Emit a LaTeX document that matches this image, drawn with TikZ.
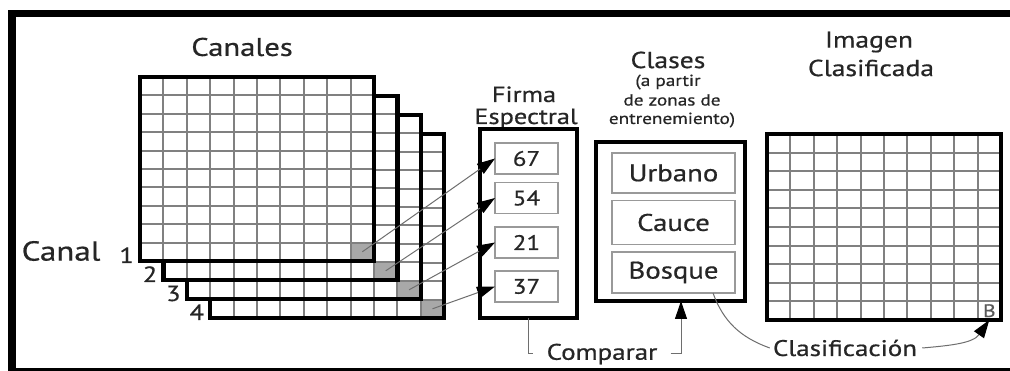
\documentclass[tikz,border=0pt]{standalone}
\usepackage{fontspec}
\setmainfont{PT Sans}[FakeStretch=1.2, FakeBold=0.6]
\usetikzlibrary{arrows.meta,calc}
\definecolor{ink}{HTML}{262626}
\definecolor{gridc}{HTML}{808080}
\definecolor{cellc}{HTML}{A8A8A8}
\definecolor{boxc}{HTML}{999999}
\definecolor{linec}{HTML}{6E6E6E}
\begin{document}
\begin{tikzpicture}[x=1pt,y=-1pt,
  frame/.style={draw=black, line width=4.5pt, inner sep=0pt, outer sep=0pt},
  gridline/.style={draw=gridc, line width=1.9pt},
  cellnode/.style={fill=cellc, inner sep=0pt, outer sep=0pt, minimum width=23.4pt, minimum height=18.4pt},
  itembox/.style={draw=boxc, line width=1.8pt, fill=white, inner sep=0pt, outer sep=0pt, text=ink},
  title/.style={text=ink, font=\fontsize{23}{25}\selectfont, inner sep=0pt},
  small/.style={text=ink, font=\fontsize{16}{18}\selectfont, inner sep=0pt},
  lbl/.style={text=ink, font=\fontsize{22.5}{24}\selectfont, inner sep=0pt},
  numlbl/.style={text=ink, font=\fontsize{22}{24}\selectfont, inner sep=0pt},
  conn/.style={draw=linec, line width=1pt},
  tip/.style={-{Triangle[length=18pt,width=12pt,color=black]}},
]
\useasboundingbox (0,0) rectangle (1010,371);
\fill[white] (0,0) rectangle (1010,371);

% outer border
\fill[black] (8,10) rectangle (1010,17);
\fill[black] (8,10) rectangle (16,371);
\fill[black] (8,368) rectangle (1010,371);

% stacked channel grids, back to front
\foreach \n/\px/\py in {4/210.2/134, 3/186.8/115, 2/163.4/96, 1/140/77}{
  \begin{scope}[shift={(\px,\py)}]
    \fill[white] (0,0) rectangle (234,184);
    \node[cellnode] (g\n) at (222.3,174.8) {};
    \foreach \i in {1,...,9}{
      \draw[gridline] (\i*23.4,0) -- (\i*23.4,184);
      \draw[gridline] (0,\i*18.4) -- (234,\i*18.4);
    }
    \node[frame, minimum width=234pt, minimum height=184pt, anchor=north west] (ch\n) at (0,0) {};
    \node[numlbl, anchor=base east] (n\n) at (-6,186) {\n};
  \end{scope}
}

\node[title, font=\fontsize{25.5}{27}\selectfont] (tcan) at (242,47) {Canales};
\node[text=ink, font=\fontsize{27.5}{30}\selectfont, inner sep=0pt] (tcanal) at (61,251) {Canal};

% spectral signature
\node[title, font=\fontsize{22}{24}\selectfont, anchor=base] (tfirma) at (524,102) {Firma};
\node[title, font=\fontsize{22}{24}\selectfont, anchor=base] (tesp) at (526,124) {Espectral};
\node[frame, minimum width=97pt, minimum height=189pt, anchor=north west] (fir) at (480,129) {};
\node[itembox, minimum width=63pt, minimum height=31pt, font=\fontsize{21}{23}\selectfont] (f67) at (526.5,158.5) {67};
\node[itembox, minimum width=63pt, minimum height=31pt, font=\fontsize{21}{23}\selectfont] (f54) at (526.5,198) {54};
\node[itembox, minimum width=63pt, minimum height=31pt, font=\fontsize{21}{23}\selectfont] (f21) at (526.5,242.5) {21};
\node[itembox, minimum width=63pt, minimum height=31pt, font=\fontsize{21}{23}\selectfont] (f37) at (526.5,286.5) {37};

% classes
\node[title] (tcla) at (668,60) {Clases};
\node[small] (tcl1) at (668,82) {(a partir};
\node[small] (tcl2) at (672,100) {de zonas de};
\node[small] (tcl3) at (672,120) {entrenemiento)};
\node[frame, minimum width=149pt, minimum height=159pt, anchor=north west] (cls) at (596,142) {};
\node[itembox, minimum width=123pt, minimum height=40pt, font=\fontsize{24}{26}\selectfont] (urb) at (673.5,173) {Urbano};
\node[itembox, minimum width=123pt, minimum height=44pt, font=\fontsize{24}{26}\selectfont] (cau) at (673.5,222.5) {Cauce};
\node[itembox, minimum width=123pt, minimum height=41pt, font=\fontsize{24}{26}\selectfont] (bos) at (673.5,272.5) {Bosque};

% classified image
\node[title] (timg) at (869,42) {Imagen};
\node[title] (tclf) at (871,68) {Clasificada};
\begin{scope}[shift={(767,134)}]
  \fill[white] (0,0) rectangle (234,186);
  \foreach \i in {1,...,9}{
    \draw[gridline] (\i*23.4,0) -- (\i*23.4,186);
    \draw[gridline] (0,\i*18.6) -- (234,\i*18.6);
  }
  \node[inner sep=0pt, outer sep=0pt, minimum width=23.4pt, minimum height=18.6pt,
        text=black!65, font=\rmfamily\fontsize{18}{18}\selectfont] (bcell) at (222.3,176.7) {B};
  \node[frame, minimum width=234pt, minimum height=186pt, anchor=north west] (img) at (0,0) {};
\end{scope}

% pixel values to the signature
\draw[conn, tip] (g1.center) -- (f67.west);
\draw[conn, tip] (g2.center) -- (f54.west);
\draw[conn, tip] (g3.center) -- (f21.west);
\draw[conn, tip] (g4.center) -- (f37.west);

% compare step
\node[lbl] (cmp) at (602,354) {Comparar};
\draw[conn] (fir.south) |- ([xshift=-13pt]cmp.west);
\draw[conn, tip] ([xshift=13pt]cmp.east) -| ([xshift=10.5pt]cls.south);

% classification step
\node[lbl] (clsf) at (845,348) {Clasificación};
\draw[conn] ([xshift=-22pt]bos.south east) to[out=-70,in=160] ([xshift=-3pt]clsf.west);
\draw[conn, tip] ([xshift=5pt]clsf.east) to[out=5,in=235] (bcell.south);
\end{tikzpicture}
\end{document}
